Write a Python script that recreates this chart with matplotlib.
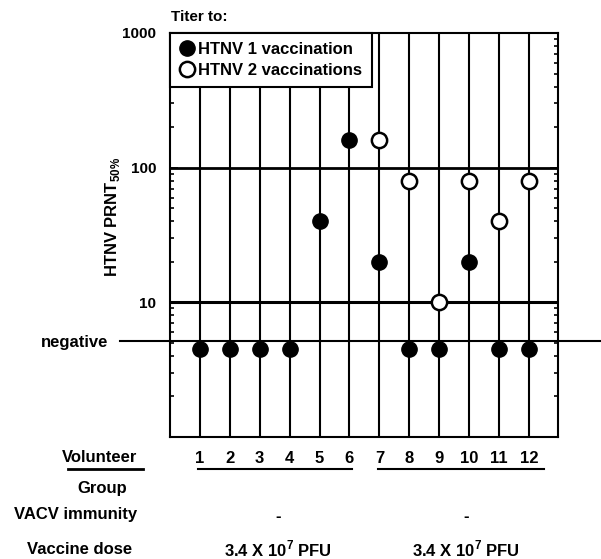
import numpy as np
import matplotlib
matplotlib.use("Agg")
import matplotlib.pyplot as plt
from matplotlib.lines import Line2D
from matplotlib.transforms import blended_transform_factory

plt.rcParams['font.family'] = ['Liberation Sans', 'DejaVu Sans']
plt.rcParams['font.weight'] = 'bold'
plt.rcParams['mathtext.fontset'] = 'custom'
plt.rcParams['mathtext.rm'] = 'Liberation Sans:bold'
plt.rcParams['mathtext.bf'] = 'Liberation Sans:bold'

# data
volunteers = [1, 2, 3, 4, 5, 6, 7, 8, 9, 10, 11, 12]
NEGATIVE = 4.5          # plotted value for a negative titer
NEG_CUTOFF = 5.2        # level of the "negative" line
one_vacc = [NEGATIVE, NEGATIVE, NEGATIVE, NEGATIVE, 40, 160,
            20, NEGATIVE, NEGATIVE, 20, NEGATIVE, NEGATIVE]
two_vacc_vol = [7, 8, 9, 10, 11, 12]
two_vacc = [160, 80, 10, 80, 40, 80]
groups = ["1", "2"]
vacv_immunity = ["-", "-"]
vaccine_dose = ["3.4 X 10$^{7}$ PFU", "3.4 X 10$^{7}$ PFU"]

W, H = 601, 559
FS = 12
fig = plt.figure(figsize=(W / 100, H / 100), dpi=100)
ax = fig.add_axes([170 / W, 1 - 437 / H, 388 / W, 404 / H])

ax.set_yscale('log')
ax.set_ylim(1, 1000)
ax.set_xlim(0, 12.97)

for v in volunteers:
    ax.axvline(v, color='black', lw=1.5, zorder=1)
ax.axhline(10, color='black', lw=2.2, zorder=1)
ax.axhline(100, color='black', lw=2.0, zorder=1)
ax.plot([-0.129, 1.111], [NEG_CUTOFF, NEG_CUTOFF], color='black', lw=1.5,
        transform=blended_transform_factory(ax.transAxes, ax.transData),
        clip_on=False, zorder=1)
ax.text(108 / W, 1 - 342 / H, 'negative', transform=fig.transFigure,
        ha='right', va='center', fontsize=FS, fontweight='bold')

ax.plot(volunteers, one_vacc, 'o', ms=11, mfc='black', mec='black', zorder=3)
ax.plot(two_vacc_vol, two_vacc, 'o', ms=11, mfc='white', mec='black',
        mew=1.8, zorder=3)

ax.set_yticks([10, 100, 1000])
ax.set_yticklabels(['10', '100', '1000'], fontsize=11, fontweight='bold')
ax.tick_params(axis='y', which='both', direction='in', right=True,
               width=1.2, pad=10)
ax.tick_params(axis='y', which='major', length=6)
ax.tick_params(axis='y', which='minor', length=3, labelleft=False)

ax.set_xticks(volunteers)
ax.set_xticklabels([str(v) for v in volunteers], fontsize=FS,
                   fontweight='bold')
ax.tick_params(axis='x', length=0, pad=10)

for s in ax.spines.values():
    s.set_linewidth(1.5)

handles = [Line2D([], [], marker='o', ls='', ms=11, mfc='black', mec='black'),
           Line2D([], [], marker='o', ls='', ms=11, mfc='white', mec='black',
                  mew=1.8)]
leg = ax.legend(handles, ['HTNV 1 vaccination', 'HTNV 2 vaccinations'],
                loc='upper left', bbox_to_anchor=(0, 1), borderaxespad=0,
                fancybox=False, edgecolor='black', framealpha=1,
                handlelength=0.9, handletextpad=0.25, borderpad=0.55,
                labelspacing=0.35, prop={'size': FS, 'weight': 'bold'})
leg.get_frame().set_linewidth(1.5)
leg.set_zorder(5)

fig.text(171 / W, 1 - 17 / H, 'Titer to:', ha='left', va='center',
         fontsize=11, fontweight='bold')
fig.text(113 / W, 1 - 217 / H, r'HTNV PRNT$_{50\%}$', rotation=90,
         ha='center', va='center', fontsize=FS, fontweight='bold')

# table below the plot
fig.text(100 / W, 1 - 458 / H, 'Volunteer', ha='center', va='center',
         fontsize=FS, fontweight='bold')
fig.add_artist(Line2D([68 / W, 143 / W], [1 - 469 / H, 1 - 469 / H],
                      color='black', lw=2))
tr = blended_transform_factory(ax.transData, fig.transFigure)
for x0, x1 in [(0.95, 6.1), (6.95, 12.5)]:
    ax.plot([x0, x1], [1 - 469 / H] * 2, color='black', lw=1.5,
            transform=tr, clip_on=False)

fig.text(102 / W, 1 - 489 / H, 'Group', ha='center', va='center',
         fontsize=FS, fontweight='bold')
fig.text(76 / W, 1 - 515 / H, 'VACV immunity', ha='center', va='center',
         fontsize=FS, fontweight='bold')
fig.text(80 / W, 1 - 549 / H, 'Vaccine dose', ha='center', va='center',
         fontsize=FS, fontweight='bold')

group_x = [3.6, 9.9]
for gx, g, imm, dose in zip(group_x, groups, vacv_immunity, vaccine_dose):
    ax.text(gx, 1 - 517 / H, imm, transform=tr, ha='center', va='center',
            fontsize=FS, fontweight='bold')
    ax.text(gx, 1 - 549 / H, dose, transform=tr, ha='center', va='center',
            fontsize=FS, fontweight='bold')

fig.savefig('out.png', dpi=100)
